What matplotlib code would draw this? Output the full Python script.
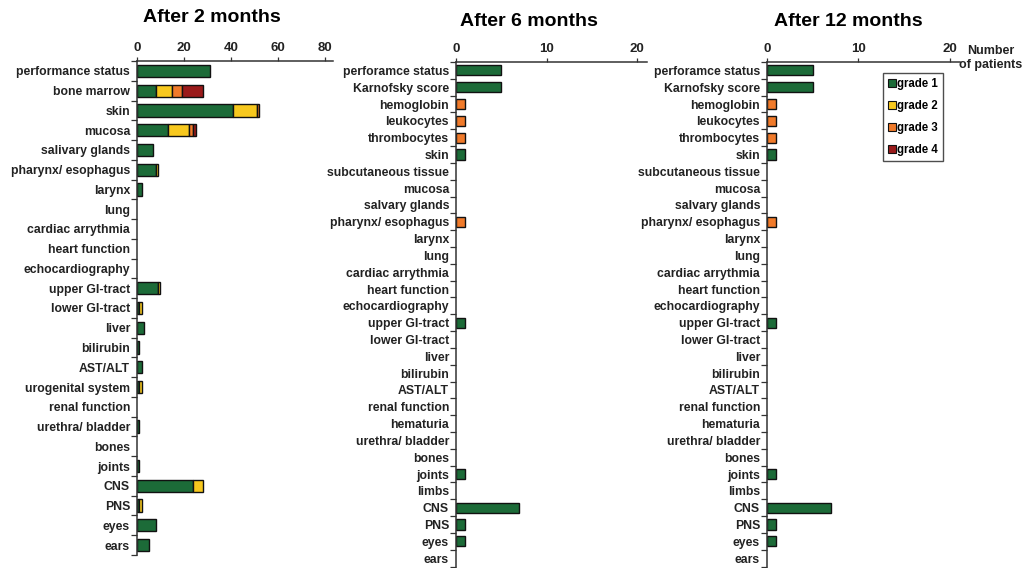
import matplotlib
matplotlib.use("Agg")
import matplotlib.pyplot as plt
from matplotlib.lines import Line2D
import numpy as np

plt.rcParams['font.family'] = ['Liberation Sans', 'DejaVu Sans']
plt.rcParams['font.weight'] = 'bold'

# ---- data ----
cats_2m = ["performance status", "bone marrow", "skin", "mucosa", "salivary glands",
           "pharynx/ esophagus", "larynx", "lung", "cardiac arrythmia", "heart function",
           "echocardiography", "upper GI-tract", "lower GI-tract", "liver", "bilirubin",
           "AST/ALT", "urogenital system", "renal function", "urethra/ bladder", "bones",
           "joints", "CNS", "PNS", "eyes", "ears"]
g1_2m = [31, 8, 41, 13, 7, 8, 2, 0, 0, 0, 0, 9, 1, 3, 1, 2, 1, 0, 1, 0, 1, 24, 1, 8, 5]
g2_2m = [0, 7, 10, 9, 0, 1, 0, 0, 0, 0, 0, 1, 1, 0, 0, 0, 1, 0, 0, 0, 0, 4, 1, 0, 0]
g3_2m = [0, 4, 1, 2, 0, 0, 0, 0, 0, 0, 0, 0, 0, 0, 0, 0, 0, 0, 0, 0, 0, 0, 0, 0, 0]
g4_2m = [0, 9, 0, 1, 0, 0, 0, 0, 0, 0, 0, 0, 0, 0, 0, 0, 0, 0, 0, 0, 0, 0, 0, 0, 0]

cats_late = ["perforamce status", "Karnofsky score", "hemoglobin", "leukocytes",
             "thrombocytes", "skin", "subcutaneous tissue", "mucosa", "salvary glands",
             "pharynx/ esophagus", "larynx", "lung", "cardiac arrythmia", "heart function",
             "echocardiography", "upper GI-tract", "lower GI-tract", "liver", "bilirubin",
             "AST/ALT", "renal function", "hematuria", "urethra/ bladder", "bones",
             "joints", "limbs", "CNS", "PNS", "eyes", "ears"]
g1_6m = [5, 5, 0, 0, 0, 1, 0, 0, 0, 0, 0, 0, 0, 0, 0, 1, 0, 0, 0, 0, 0, 0, 0, 0, 1, 0, 7, 1, 1, 0]
g2_6m = [0] * 30
g3_6m = [0, 0, 1, 1, 1, 0, 0, 0, 0, 1, 0, 0, 0, 0, 0, 0, 0, 0, 0, 0, 0, 0, 0, 0, 0, 0, 0, 0, 0, 0]
g4_6m = [0] * 30

g1_12m = [5, 5, 0, 0, 0, 1, 0, 0, 0, 0, 0, 0, 0, 0, 0, 1, 0, 0, 0, 0, 0, 0, 0, 0, 1, 0, 7, 1, 1, 0]
g2_12m = [0] * 30
g3_12m = [0, 0, 1, 1, 1, 0, 0, 0, 0, 1, 0, 0, 0, 0, 0, 0, 0, 0, 0, 0, 0, 0, 0, 0, 0, 0, 0, 0, 0, 0]
g4_12m = [0] * 30

grade_labels = ["grade 1", "grade 2", "grade 3", "grade 4"]
colors = ["#1c6b38", "#f7c81e", "#f07a2a", "#9a1a1a"]

titles = ["After 2 months", "After 6 months", "After 12 months"]
xticks_2m = [0, 20, 40, 60, 80]
xticks_late = [0, 10, 20]

fig = plt.figure(figsize=(10.25, 5.68), dpi=100)
fig.patch.set_facecolor("white")


def panel(rect, cats, series, xmax, ticks, bar_h):
    ax = fig.add_axes(rect)
    y = np.arange(len(cats))
    left = np.zeros(len(cats))
    for vals, c in zip(series, colors):
        v = np.array(vals, dtype=float)
        m = v > 0
        ax.barh(y[m], v[m], left=left[m], height=bar_h, color=c,
                edgecolor="#111111", linewidth=1.0)
        left += v
    ax.set_ylim(len(cats) - 0.5, -0.5)
    ax.set_xlim(0, xmax)
    ax.set_yticks(y)
    ax.set_yticklabels(cats, fontsize=8.8, fontweight="bold", color="#222222")
    ax.set_yticks(np.arange(len(cats) + 1) - 0.5, minor=True)
    ax.tick_params(axis="y", which="major", length=0, pad=5)
    ax.tick_params(axis="y", which="minor", length=4, width=0.9, color="#333333")
    ax.xaxis.tick_top()
    ax.set_xticks(ticks)
    ax.set_xticklabels([str(t) for t in ticks], fontsize=9.5, fontweight="bold", color="#222222")
    ax.tick_params(axis="x", length=3, width=0.9, pad=2, color="#333333")
    for s in ["right", "bottom"]:
        ax.spines[s].set_visible(False)
    for s in ["left", "top"]:
        ax.spines[s].set_linewidth(1.1)
        ax.spines[s].set_color("#333333")
    ax.set_facecolor("none")
    return ax


H = 568.0
W = 1025.0
ax1 = panel([137 / W, 1 - 555 / H, (333 - 137) / W, (555 - 61) / H],
            cats_2m, [g1_2m, g2_2m, g3_2m, g4_2m], 83.5, xticks_2m, 0.62)
ax2 = panel([456 / W, 1 - 566.5 / H, (647 - 456) / W, (566.5 - 62) / H],
            cats_late, [g1_6m, g2_6m, g3_6m, g4_6m], 21.1, xticks_late, 0.6)
ax3 = panel([767 / W, 1 - 566.5 / H, (960 - 767) / W, (566.5 - 62) / H],
            cats_late, [g1_12m, g2_12m, g3_12m, g4_12m], 21.1, xticks_late, 0.6)

fig.text(212 / W, 1 - 18 / H, titles[0], ha="center", va="center", fontsize=14, fontweight="bold")
fig.text(529 / W, 1 - 22 / H, titles[1], ha="center", va="center", fontsize=14, fontweight="bold")
fig.text(848 / W, 1 - 22 / H, titles[2], ha="center", va="center", fontsize=14, fontweight="bold")

fig.text(991 / W, 1 - 58 / H, "Number\nof patients", ha="center", va="center",
         fontsize=9, fontweight="bold", linespacing=1.15, color="#222222")

handles = [Line2D([0], [0], marker="s", linestyle="none", markersize=6,
                  markerfacecolor=c, markeredgecolor="#111111", markeredgewidth=0.8)
           for c in colors]
leg = fig.legend(handles, grade_labels, loc="upper left",
                 bbox_to_anchor=(883 / W, 1 - 73 / H), fontsize=8.3,
                 frameon=True, fancybox=False, edgecolor="#222222",
                 handletextpad=0.05, handlelength=0.7, borderpad=0.45,
                 labelspacing=0.85, borderaxespad=0)
leg.get_frame().set_linewidth(1.0)
for t in leg.get_texts():
    t.set_fontweight("bold")

fig.savefig("out.png", dpi=100, facecolor="white")
